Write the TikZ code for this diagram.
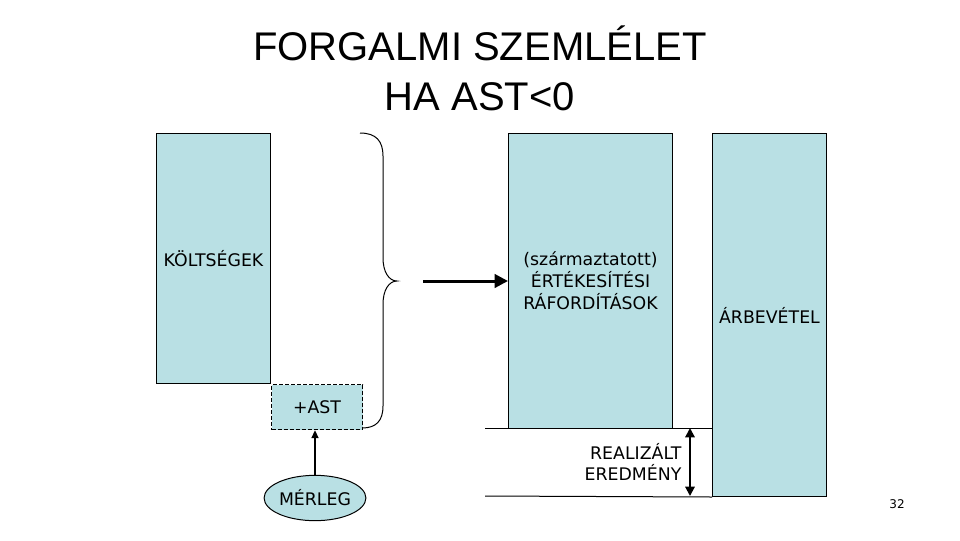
\documentclass[tikz,border=0pt]{standalone}
\usepackage{fontspec}
\setmainfont{DejaVu Sans}
\newfontfamily\titlefont{Liberation Sans}
\usetikzlibrary{arrows.meta,positioning,calc,shapes.geometric}
\definecolor{BoxTeal}{HTML}{B9E0E4}

\begin{document}
\begin{tikzpicture}[x=.75pt,y=-.75pt,
  bar/.style={draw,fill=BoxTeal,line width=.75pt,inner sep=0pt,anchor=north west,
    font=\fontsize{13}{16.5}\selectfont,align=center},
  lbl/.style={font=\fontsize{13}{16}\selectfont,align=center}]
  \useasboundingbox (0,0) rectangle (960,540);
  % title
  \node[font=\titlefont\fontsize{30}{37.5}\selectfont,align=center] (title) at (480,68)
    {FORGALMI SZEMLÉLET\\HA AST<0};
  % bars
  \node[bar,minimum width=85.5pt,minimum height=187.5pt] (kolt) at (156,133) {KÖLTSÉGEK};
  \node[bar,dash pattern=on 3pt off 1.5pt,minimum width=68.25pt,minimum height=33.75pt]
    (ast) at (kolt.south east) {+AST};
  \node[bar,minimum width=123pt,minimum height=221.25pt] (ert) at (508,133)
    {(származtatott)\\ÉRTÉKESÍTÉSI\\RÁFORDÍTÁSOK};
  \node[bar,minimum width=85.5pt,minimum height=272.25pt] (arb) at (712,133) {ÁRBEVÉTEL};
  % brace
  \coordinate (tip) at (397,281);
  \draw[line width=.75pt] (360,133) .. controls (376,133) and (383,141) .. (383,156)
    -- (383,258) .. controls (383,272) and (389,281) .. (tip)
    .. controls (389,281) and (383,290) .. (383,304)
    -- (383,406) .. controls (383,421) and (376,428) .. (362,428);
  \coordinate (arr) at (423,281);
  \draw[line width=2.25pt,-{Triangle[length=10pt,width=10pt]}] (arr) -- (ert.west |- arr);
  % realized result
  \coordinate (top) at (485,428);
  \coordinate (bot) at (485,496);
  \draw[line width=.75pt] (top) -- (top -| arb.west);
  \draw[line width=.75pt] (bot) -- (arb.south west);
  \coordinate (ra) at (690,428);
  \coordinate (rb) at (690,496);
  \draw[line width=1.5pt,{Triangle[length=7pt,width=7pt]}-{Triangle[length=7pt,width=7pt]}] (ra) -- (rb);
  \node[lbl,align=right,anchor=east,inner sep=1pt] (real) at (683,462) {REALIZÁLT\\EREDMÉNY};
  % balance sheet
  \node[ellipse,draw,fill=BoxTeal,line width=.75pt,inner sep=0pt,minimum width=74pt,minimum height=34pt,lbl]
    (merleg) at (315,498) {MÉRLEG};
  \draw[line width=1.5pt,-{Triangle[length=6pt,width=5pt]}] (merleg.north) -- (merleg.north |- ast.south);
  \node[font=\fontsize{9}{11}\selectfont] (pg) at (897,504) {32};
\end{tikzpicture}
\end{document}
